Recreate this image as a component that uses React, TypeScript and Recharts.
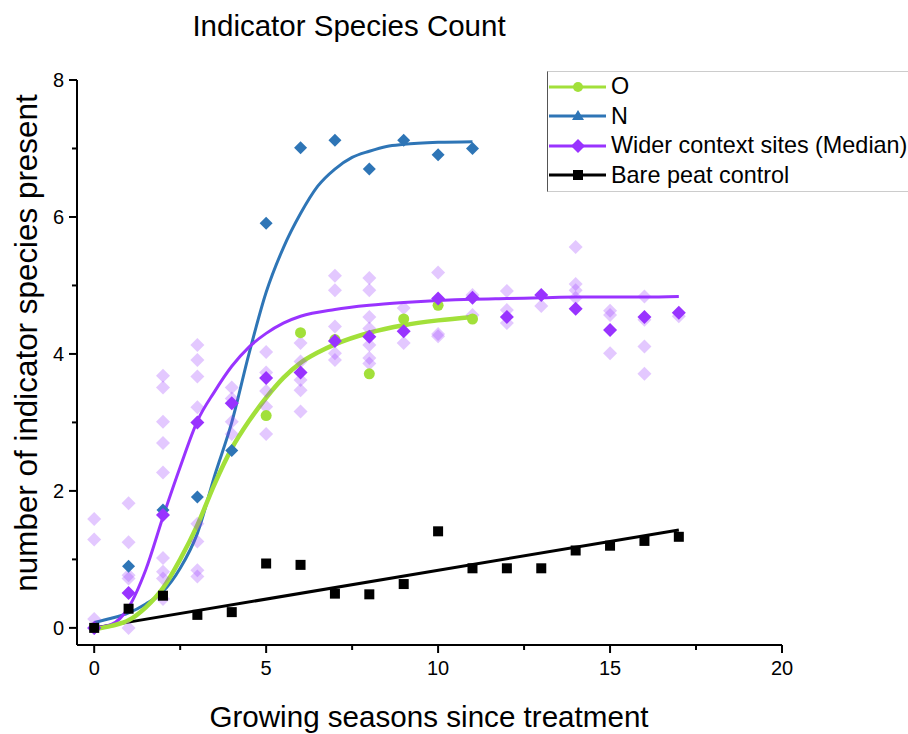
import React from 'react';
import { ComposedChart, Line, Scatter, XAxis, YAxis } from 'recharts';

// seasons 0..17
const seasons = [0, 1, 2, 3, 4, 5, 6, 7, 8, 9, 10, 11, 12, 13, 14, 15, 16, 17];

// measured points
const oSeasons = [0, 5, 6, 7, 8, 9, 10, 11];
const oValues = [0, 3.1, 4.31, 4.21, 3.71, 4.51, 4.71, 4.51];
const nSeasons = [0, 1, 2, 3, 4, 5, 6, 7, 8, 9, 10, 11];
const nValues = [0, 0.9, 1.72, 1.91, 2.59, 5.91, 7.01, 7.12, 6.7, 7.12, 6.91, 7.0];
const medianValues = [0, 0.51, 1.65, 3.0, 3.28, 3.65, 3.73, 4.19, 4.25, 4.33, 4.81, 4.82, 4.54, 4.86, 4.66, 4.35, 4.54, 4.6];
const bareValues = [0, 0.28, 0.47, 0.19, 0.23, 0.94, 0.92, 0.5, 0.49, 0.64, 1.41, 0.87, 0.87, 0.87, 1.13, 1.2, 1.27, 1.33];

// individual wider context sites, one list per season
const siteSpread = [
  [1.59, 1.29, 0.13, 0],
  [1.82, 1.25, 0.77, 0.72, 0],
  [3.68, 3.51, 3.01, 2.7, 2.27, 1.02, 0.82, 0.72, 0.42],
  [4.13, 3.91, 3.67, 3.22, 1.52, 1.26, 0.84, 0.75],
  [3.51, 3.35, 3.01, 2.83],
  [4.03, 3.73, 3.46, 3.23, 2.83],
  [4.16, 3.89, 3.62, 3.47, 3.16],
  [5.14, 4.93, 4.4, 4.01, 3.91],
  [5.11, 4.93, 4.54, 4.37, 4.13, 3.94, 3.86],
  [4.67, 4.16],
  [5.19, 4.29, 4.26],
  [4.86, 4.57],
  [4.92, 4.64, 4.45],
  [4.7],
  [5.56, 5.02, 4.93, 4.82],
  [4.63, 4.57, 4.01],
  [4.84, 4.5, 4.11, 3.71],
  [4.55],
];

// fitted curves
const oFitX = [0, 0.5, 1, 1.5, 2, 2.5, 3, 3.5, 4, 4.5, 5, 5.5, 6, 6.5, 7, 8, 9, 10, 11];
const oFitY = [-0.02, 0.03, 0.11, 0.3, 0.58, 1.0, 1.5, 2.1, 2.62, 3.02, 3.36, 3.65, 3.87, 4.02, 4.14, 4.31, 4.42, 4.49, 4.54];
const nFitX = [0, 0.5, 1, 1.5, 2, 2.5, 3, 3.5, 4, 4.5, 5, 5.5, 6, 6.5, 7, 7.5, 8, 8.5, 9, 10, 11];
const nFitY = [0.08, 0.14, 0.22, 0.35, 0.53, 0.87, 1.38, 2.22, 3.0, 4.0, 4.9, 5.55, 6.05, 6.45, 6.7, 6.87, 6.96, 7.03, 7.06, 7.09, 7.1];
const medFitX = [0, 0.5, 1, 1.5, 2, 2.5, 3, 3.5, 4, 4.5, 5, 5.5, 6, 7, 8, 9, 10, 11, 12, 13, 14, 15, 16, 17];
const medFitY = [0, 0.05, 0.3, 0.85, 1.62, 2.35, 3.02, 3.45, 3.82, 4.1, 4.3, 4.45, 4.55, 4.65, 4.71, 4.75, 4.78, 4.8, 4.81, 4.82, 4.83, 4.83, 4.83, 4.84];
const bareFitX = [0, 17];
const bareFitY = [0, 1.43];

const xTicks = [0, 2.5, 5, 7.5, 10, 12.5, 15, 17.5, 20];
const yTicks = [0, 1, 2, 3, 4, 5, 6, 7, 8];

const GREEN = '#a2e03a';
const BLUE = '#2e75b6';
const PURPLE = '#9933ff';
const FONT = '"Liberation Sans", Arial, sans-serif';

const pts = (xs: number[], ys: number[]) => xs.map((x, i) => ({ x, y: ys[i] }));

const sitePoints = siteSpread.flatMap((vals, i) => vals.map((y) => ({ x: seasons[i], y })));

const diamond = (fill: string, r: number, opacity = 1) => (p: any) => (
  <path
    d={`M${p.cx},${p.cy - r}L${p.cx + r},${p.cy}L${p.cx},${p.cy + r}L${p.cx - r},${p.cy}Z`}
    fill={fill}
    fillOpacity={opacity}
  />
);
const circle = (fill: string, r: number) => (p: any) => <circle cx={p.cx} cy={p.cy} r={r} fill={fill} />;
const square = (fill: string, s: number) => (p: any) => (
  <rect x={p.cx - s / 2} y={p.cy - s / 2} width={s} height={s} fill={fill} />
);

// tickSize/tickMargin are 0, so x,y arrive on the axis line itself
const XTick = (props: any) => {
  const { x, y, payload } = props;
  const major = payload.value % 5 === 0;
  return (
    <g>
      <line x1={x} y1={y} x2={x} y2={y + (major ? 8 : 5)} stroke="#000" strokeWidth={2} />
      {major && (
        <text x={x} y={y + 30} textAnchor="middle" fontSize={20} fontFamily={FONT} fill="#000">
          {payload.value}
        </text>
      )}
    </g>
  );
};

const YTick = (props: any) => {
  const { x, y, payload } = props;
  const major = payload.value % 2 === 0;
  return (
    <g>
      <line x1={x - (major ? 8 : 5)} y1={y} x2={x} y2={y} stroke="#000" strokeWidth={2} />
      {major && (
        <text x={x - 13} y={y} dy="0.35em" textAnchor="end" fontSize={20} fontFamily={FONT} fill="#000">
          {payload.value}
        </text>
      )}
    </g>
  );
};

const legendItems = [
  { label: 'O', color: GREEN, marker: 'circle' },
  { label: 'N', color: BLUE, marker: 'triangle' },
  { label: 'Wider context sites (Median)', color: PURPLE, marker: 'diamond' },
  { label: 'Bare peat control', color: '#000', marker: 'square' },
];

const LegendIcon = ({ color, marker }: { color: string; marker: string }) => (
  <svg width={63} height={20} style={{ display: 'block', flex: 'none' }}>
    <line x1={1} y1={10} x2={58} y2={10} stroke={color} strokeWidth={3} />
    {marker === 'circle' && <circle cx={30} cy={10} r={5} fill={color} />}
    {marker === 'triangle' && <path d="M30,4L36,14L24,14Z" fill={color} />}
    {marker === 'diamond' && <path d="M30,3L37,10L30,17L23,10Z" fill={color} />}
    {marker === 'square' && <rect x={25} y={5} width={10} height={10} fill={color} />}
  </svg>
);

// whole window, absolutely placed so the body margin adds no scrollbar
export default function App() {
  return (
    <div style={{ position: 'absolute', left: 0, top: 0, width: 908, height: 734, overflow: 'hidden', fontFamily: FONT }}>
      <ComposedChart width={908} height={734} margin={{ top: 80, right: 126, bottom: 59, left: 17 }}>
        <XAxis
          type="number"
          dataKey="x"
          domain={[-0.5, 20]}
          ticks={xTicks}
          interval={0}
          allowDataOverflow
          height={30}
          tickSize={0}
          tickMargin={0}
          tickLine={false}
          tick={XTick}
          axisLine={{ stroke: '#000', strokeWidth: 2 }}
        />
        <YAxis
          type="number"
          dataKey="y"
          domain={[-0.25, 8]}
          ticks={yTicks}
          interval={0}
          allowDataOverflow
          width={60}
          tickSize={0}
          tickMargin={0}
          tickLine={false}
          tick={YTick}
          axisLine={{ stroke: '#000', strokeWidth: 2 }}
        />
        <Scatter data={sitePoints} shape={diamond(PURPLE, 7, 0.27)} isAnimationActive={false} />
        <Line data={pts(bareFitX, bareFitY)} dataKey="y" type="linear" stroke="#000" strokeWidth={3} dot={false} activeDot={false} isAnimationActive={false} />
        <Line data={pts(nFitX, nFitY)} dataKey="y" type="monotone" stroke={BLUE} strokeWidth={3} dot={false} activeDot={false} isAnimationActive={false} />
        <Line data={pts(medFitX, medFitY)} dataKey="y" type="monotone" stroke={PURPLE} strokeWidth={3} dot={false} activeDot={false} isAnimationActive={false} />
        <Line data={pts(oFitX, oFitY)} dataKey="y" type="monotone" stroke={GREEN} strokeWidth={4.5} dot={false} activeDot={false} isAnimationActive={false} />
        <Scatter data={pts(oSeasons, oValues)} shape={circle(GREEN, 5.5)} isAnimationActive={false} />
        <Scatter data={pts(nSeasons, nValues)} shape={diamond(BLUE, 6.5)} isAnimationActive={false} />
        <Scatter data={pts(seasons, medianValues)} shape={diamond(PURPLE, 7)} isAnimationActive={false} />
        <Scatter data={pts(seasons, bareValues)} shape={square('#000', 10)} isAnimationActive={false} />
      </ComposedChart>

      <svg width={908} height={734} style={{ position: 'absolute', left: 0, top: 0, pointerEvents: 'none' }}>
        <text x={349} y={36} textAnchor="middle" fontSize={29.5} fontFamily={FONT} fill="#000">
          Indicator Species Count
        </text>
        <text x={429} y={727} textAnchor="middle" fontSize={29.6} fontFamily={FONT} fill="#000">
          Growing seasons since treatment
        </text>
        <text
          transform="translate(37, 343) rotate(-90)"
          textAnchor="middle"
          fontSize={31.4}
          fontFamily={FONT}
          fill="#000"
        >
          number of indicator species present
        </text>
      </svg>

      <div
        style={{
          position: 'absolute',
          left: 547,
          top: 71,
          width: 361,
          height: 119,
          borderLeft: '1px solid #555',
          borderTop: '1px solid #ccc',
          borderBottom: '1px solid #ccc',
          background: '#fff',
        }}
      >
        {legendItems.map((it) => (
          <div key={it.label} style={{ display: 'flex', alignItems: 'center', height: 29.5, fontSize: 23.4, whiteSpace: 'nowrap' }}>
            <LegendIcon color={it.color} marker={it.marker} />
            <span style={{ lineHeight: '29.5px' }}>{it.label}</span>
          </div>
        ))}
      </div>
    </div>
  );
}
